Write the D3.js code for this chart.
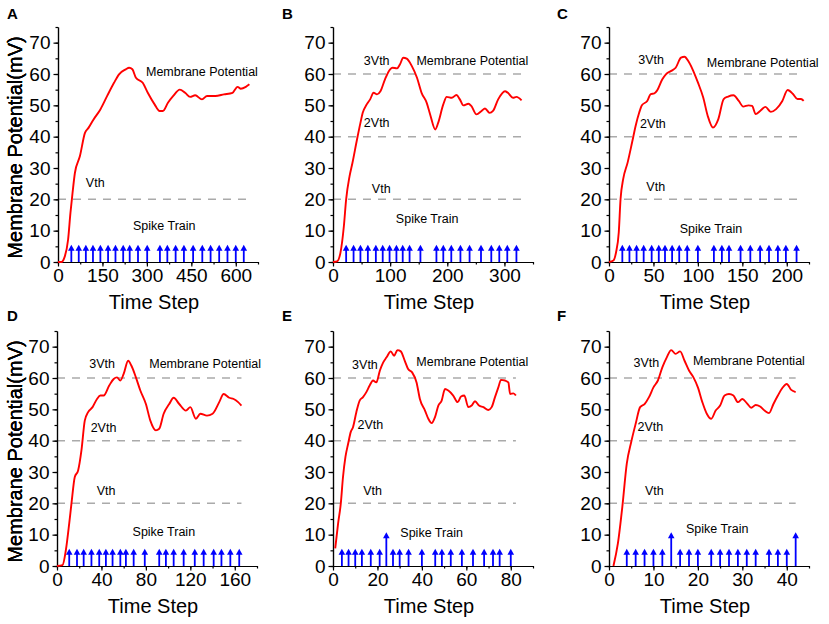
<!DOCTYPE html>
<html lang="en">
<head>
  <meta charset="UTF-8">
  <style>
    body { margin: 0; background: #fff; }
    svg { font-family: "Liberation Sans", Arial, sans-serif; }
    .axis path, .axis line { stroke: #000; stroke-width: 1.2; }
    .axis text { font-size: 19px; fill: #000; font-family: "Liberation Sans", Arial, sans-serif; }
    .vm { fill: none; stroke: #ff0000; stroke-width: 1.9; stroke-linejoin: round; }
    .thr { stroke: #aaaaaa; stroke-width: 1.5; stroke-dasharray: 8 7; }
    .spike { stroke: #0000ff; stroke-width: 1.8; }
    .head { fill: #0000ff; }
    .note { font-size: 12.5px; fill: #000; }
    .title { font-size: 20px; fill: #000; }
    .letter { font-size: 15px; font-weight: bold; fill: #000; }
  </style>
</head>
<body>
<svg width="829" height="624"></svg>
<script src="https://cdnjs.cloudflare.com/ajax/libs/d3/7.8.5/d3.min.js"></script>
<script>
// membrane potential traces (time step, mV)
const timeA = [0, 11, 23, 34, 42, 49, 57, 74, 91, 103, 120, 143, 166, 189, 206, 229, 240, 251, 263, 286, 303, 326, 343, 354, 371, 389, 411, 429, 446, 463, 486, 503, 531, 560, 589, 606, 617, 634, 646]
const vmA = [0, 0, 1.8, 7.1, 15.7, 22, 28.4, 33.8, 41.2, 42.8, 45.5, 48.7, 53, 57.2, 59.9, 61.5, 62, 61.5, 58.8, 57.2, 54, 50.3, 48.2, 48.2, 50.8, 53, 55, 54, 52.7, 53.2, 51.9, 53, 53, 53.5, 54, 55.9, 55.3, 55.9, 56.7]

const timeB = [0, 7, 13, 19, 23, 29, 34, 42, 48, 52, 59, 65, 71, 77, 83, 91, 100, 104, 112, 117, 123, 129, 138, 147, 155, 164, 170, 179, 184, 193, 199, 208, 216, 222, 228, 237, 242, 251, 260, 266, 274, 280, 289, 301, 306, 315, 321, 330]
const vmB = [0, 0.2, 2.9, 11.4, 20, 27.4, 31.6, 39.1, 44.4, 47.6, 50.3, 51.9, 54, 53.5, 54.5, 58.3, 61.5, 62, 61.8, 63, 65.2, 64.9, 62.5, 58.8, 54, 50.8, 47.1, 42.3, 44.4, 50.3, 52.7, 52.4, 53.3, 51.9, 50, 50.5, 49.8, 47.1, 48.2, 49, 47.6, 48.2, 51.9, 54.5, 54, 52.4, 52.7, 51.6]

const timeC = [0, 5, 8, 11, 13, 16, 21, 26, 30, 34, 37, 43, 47, 51, 54, 60, 64, 70, 75, 81, 85, 89, 94, 100, 106, 111, 117, 123, 129, 134, 140, 146, 151, 157, 161, 165, 170, 176, 182, 188, 195, 201, 207, 212, 216, 219]
const vmC = [0, 0.5, 3.2, 9.5, 20.1, 26.5, 31.8, 38.2, 43.5, 47.7, 50, 51.4, 53.6, 53.8, 54.7, 58.3, 59.9, 61, 62, 65.2, 65.5, 64.2, 61.5, 57.3, 52.5, 46.7, 42.9, 45.6, 52, 52.8, 53.2, 51.4, 49.6, 50, 49.8, 47.2, 48.2, 49.5, 47.9, 48.8, 51.4, 54.9, 53.6, 52, 52, 51.4]

const timeD = [0, 5, 8, 11, 13, 16, 19, 22, 25, 28, 32, 36, 39, 42, 47, 51, 54, 57, 60, 64, 67, 71, 75, 80, 84, 89, 92, 96, 101, 105, 110, 116, 120, 125, 129, 135, 140, 146, 150, 155, 159, 163, 166]
const vmD = [0, 0.3, 5.1, 13.6, 19.9, 28.4, 30.5, 36.9, 46.4, 49.1, 50.7, 53.3, 54.4, 54.4, 57.6, 59.7, 60.2, 59.2, 61.3, 65.5, 63.9, 60.2, 56, 51.7, 46.4, 43.3, 43.8, 48.6, 51.7, 53.7, 51.7, 49.6, 50.7, 47, 48.6, 48, 48.6, 52.3, 54.9, 53.7, 53.3, 52.3, 51.2]

const timeE = [1, 2.3, 3.5, 4.5, 5.6, 6.8, 8, 9, 10.5, 12, 13.5, 15, 16.5, 18, 19.5, 21.1, 22.6, 24.1, 26, 27.5, 29, 30.5, 32.3, 33.8, 35.6, 37.6, 39.1, 41.4, 42.9, 44.4, 45.9, 47.4, 48.9, 50.4, 51.9, 54.1, 56.1, 57.6, 59.1, 60.9, 62.4, 63.9, 65.7, 67.7, 69.9, 71.4, 72.9, 74.4, 75.6, 77.4, 78.9, 79.7, 81.2, 82.3]
const vmE = [5.6, 13.6, 19.9, 28.4, 34.8, 39, 42.8, 44.3, 49.1, 52.8, 53.9, 55.5, 57.6, 59.2, 58.6, 62.4, 65, 66.6, 68.5, 67.1, 68.9, 68.5, 65.5, 62.9, 61.8, 58.6, 53.3, 49.6, 47, 45.6, 47.5, 51.2, 52.8, 56.5, 56, 54.4, 52.3, 54.1, 54.4, 50.7, 51.2, 52.6, 51.2, 50.7, 49.8, 50.7, 53.9, 57, 59.4, 59.2, 58.6, 54.9, 55.1, 54.4]

const timeF = [1, 2, 3, 4, 5, 6, 7, 8, 9, 10, 11, 12, 13, 14, 15, 16, 17, 18, 19, 20, 21, 22, 23, 24, 25, 26, 27, 28, 29, 30, 31, 32, 33, 34, 35, 36, 37, 38, 39, 40, 41, 42]
const vmF = [0, 7.2, 18.9, 32.7, 39.6, 45.4, 50.7, 51.7, 53.9, 57, 59.2, 63.4, 66.6, 68.9, 67.7, 68.5, 65.5, 62.4, 60.2, 57, 52.3, 48.6, 47, 49.6, 51.2, 54.4, 54.9, 54.4, 52.3, 53.3, 52, 50.5, 51.4, 50.9, 49.6, 48.8, 51.7, 54.4, 56.8, 58.1, 56.2, 55.5]

// spike trains (time steps); the double spikes are drawn as tall arrows
const spikesA = [45, 70, 94, 118, 143, 169, 194, 220, 242, 270, 301, 344, 369, 397, 425, 456, 487, 515, 544, 572, 600, 627]
const spikesB = [23, 36, 48, 61, 75, 87, 99, 111, 122, 134, 153, 181, 193, 207, 223, 239, 259, 277, 291, 305, 321]
const spikesC = [15, 23, 31, 39, 48, 56, 63, 71, 79, 88, 100, 118, 127, 135, 148, 159, 170, 180, 190, 199, 211]
const spikesD = [11, 18, 24, 31, 38, 44, 50, 57, 62, 69, 79, 92, 98, 105, 114, 124, 132, 141, 148, 156, 164]
const spikesE = [4, 7, 10, 13, 17, 21, 27, 30, 34, 40, 46, 49, 53, 58, 63, 68, 72, 75, 80]
const doubleE = [24]
const spikesF = [4, 6, 8, 10, 12, 16, 18, 20, 23, 25, 27, 29, 31, 33, 36, 38, 40]
const doubleF = [14, 42]

// axis settings
const xMaxes = [675, 350, 225, 180, 90, 45]
const xSteps = [150, 100, 50, 40, 20, 10]
const yTicks = [0, 10, 20, 30, 40, 50, 60, 70]
const letters = ['A', 'B', 'C', 'D', 'E', 'F']

const dimen = { width: 200, height: 235 }
const origins = [
  { x: 58, y: 27 }, { x: 333, y: 27 }, { x: 609, y: 27 },
  { x: 57, y: 331 }, { x: 333, y: 331 }, { x: 609, y: 331 },
]
const letterPos = [
  { x: 7, y: 19 }, { x: 282, y: 19 }, { x: 557, y: 19 },
  { x: 7, y: 321 }, { x: 282, y: 321 }, { x: 557, y: 321 },
]

const panels = [
  { t: timeA, v: vmA, spikes: spikesA, doubles: [], thr: [20],
    notes: [['Membrane Potential', 297, 59.5], ['Vth', 94, 24], ['Spike Train', 253, 10.2]] },
  { t: timeB, v: vmB, spikes: spikesB, doubles: [], thr: [20, 40, 60],
    notes: [['3Vth', 54, 63], ['Membrane Potential', 146, 63], ['2Vth', 54, 43.2], ['Vth', 68, 22.1], ['Spike Train', 110, 12.6]] },
  { t: timeC, v: vmC, spikes: spikesC, doubles: [], thr: [20, 40, 60],
    notes: [['3Vth', 33, 63.3], ['Membrane Potential', 110, 62.1], ['2Vth', 35, 42.7], ['Vth', 42, 22.8], ['Spike Train', 79.5, 9.4]] },
  { t: timeD, v: vmD, spikes: spikesD, doubles: [], thr: [20, 40, 60],
    notes: [['3Vth', 29, 63.3], ['Membrane Potential', 83, 63.3], ['2Vth', 30.3, 42.8], ['Vth', 35.7, 22.6], ['Spike Train', 68, 9.7]] },
  { t: timeE, v: vmE, spikes: spikesE, doubles: doubleE, thr: [20, 40, 60],
    notes: [['3Vth', 8.6, 63], ['Membrane Potential', 37.5, 63.8], ['2Vth', 11, 43.6], ['Vth', 13.6, 22.6], ['Spike Train', 30.3, 9.3]] },
  { t: timeF, v: vmF, spikes: spikesF, doubles: doubleF, thr: [20, 40, 60],
    notes: [['3Vth', 5.5, 63.5], ['Membrane Potential', 18.9, 64.3], ['2Vth', 6.4, 43.1], ['Vth', 8.1, 22.6], ['Spike Train', 17.3, 10.4]] },
]

const svg = d3.select('svg')

panels.forEach((p, i) => {
  const o = origins[i]
  const xScale = d3.scaleLinear().domain([0, xMaxes[i]]).range([0, dimen.width])
  const yScale = d3.scaleLinear().domain([0, 75]).range([dimen.height, 0])

  const g = svg.append('g').attr('transform', `translate(${o.x}, ${o.y})`)

  // threshold lines
  const tEnd = p.t[p.t.length - 1]
  g.selectAll('.thr')
    .data(p.thr)
    .enter().append('line')
      .attr('class', 'thr')
      .attr('x1', xScale(0)).attr('x2', xScale(tEnd))
      .attr('y1', d => yScale(d)).attr('y2', d => yScale(d))

  // minor ticks
  const xMinor = d3.range(0, xMaxes[i] + 0.001, xSteps[i] / 2)
  g.append('g')
      .attr('class', 'axis')
      .attr('transform', `translate(0, ${dimen.height})`)
      .call(d3.axisBottom(xScale).tickValues(xMinor).tickSize(2.5).tickSizeOuter(0).tickFormat(''))
  g.append('g')
      .attr('class', 'axis')
      .call(d3.axisLeft(yScale).tickValues(d3.range(0, 75.1, 5)).tickSize(2.5).tickSizeOuter(0).tickFormat(''))

  // major ticks + labels
  const xMajor = d3.range(0, xMaxes[i] + 0.001, xSteps[i])
  g.append('g')
      .attr('class', 'axis')
      .attr('transform', `translate(0, ${dimen.height})`)
      .call(d3.axisBottom(xScale).tickValues(xMajor).tickSize(4.5).tickPadding(2).tickSizeOuter(0))
  g.append('g')
      .attr('class', 'axis')
      .call(d3.axisLeft(yScale).tickValues(yTicks).tickSize(4.5).tickPadding(3).tickSizeOuter(0))
  g.selectAll('.axis .domain').attr('stroke-width', 1.3)

  // spikes
  const addSpikes = (times, h) => {
    const sg = g.append('g')
    sg.selectAll('line')
      .data(times)
      .enter().append('line')
        .attr('class', 'spike')
        .attr('x1', d => xScale(d)).attr('x2', d => xScale(d))
        .attr('y1', yScale(0)).attr('y2', yScale(h) + 4)
    sg.selectAll('path')
      .data(times)
      .enter().append('path')
        .attr('class', 'head')
        .attr('d', d => {
          const x = xScale(d), y = yScale(h)
          return `M${x},${y}L${x - 3.3},${y + 6}L${x + 3.3},${y + 6}Z`
        })
  }
  addSpikes(p.spikes, 5.5)
  addSpikes(p.doubles, 10.8)

  // membrane potential
  const line = d3.line()
      .x(d => xScale(d[0]))
      .y(d => yScale(d[1]))
      .curve(d3.curveMonotoneX)
  g.append('path')
      .attr('class', 'vm')
      .datum(p.t.map((t, k) => [t, p.v[k]]))
      .attr('d', line)

  // annotations
  g.selectAll('.note')
    .data(p.notes)
    .enter().append('text')
      .attr('class', 'note')
      .attr('x', d => xScale(d[1]))
      .attr('y', d => yScale(d[2]))
      .text(d => d[0])

  // axis titles
  g.append('text')
      .attr('class', 'title')
      .attr('text-anchor', 'middle')
      .attr('x', dimen.width / 2 - 4)
      .attr('y', dimen.height + 47)
      .text('Time Step')
  g.append('text')
      .attr('class', 'title')
      .attr('text-anchor', 'middle')
      .attr('transform', `translate(${22 - o.x}, ${dimen.height / 2 + 3}) rotate(-90)`)
      .text('Membrane Potential(mV)')

  svg.append('text')
      .attr('class', 'letter')
      .attr('x', letterPos[i].x)
      .attr('y', letterPos[i].y)
      .text(letters[i])
})
</script>
</body>
</html>
